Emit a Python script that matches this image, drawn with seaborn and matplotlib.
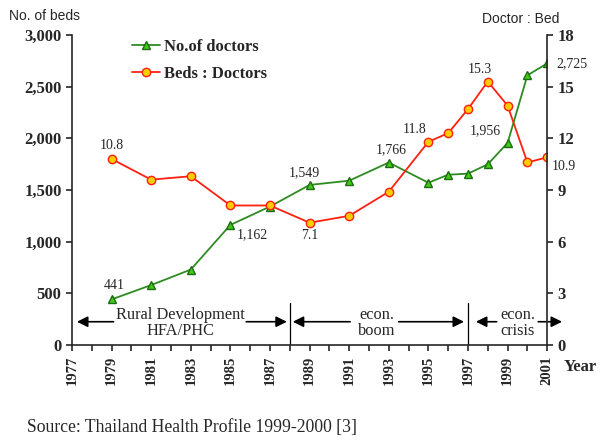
import numpy as np
import pandas as pd
import matplotlib.pyplot as plt
import seaborn as sns
from matplotlib.lines import Line2D
from matplotlib.ticker import FuncFormatter, MultipleLocator

# data
years = [1979, 1981, 1983, 1985, 1987, 1989, 1991, 1993, 1995, 1996, 1997, 1998, 1999, 2000, 2001]
doctors = [441, 580, 730, 1162, 1340, 1549, 1590, 1766, 1570, 1648, 1658, 1749, 1956, 2610, 2725]
beds_ratio = [10.8, 9.6, 9.8, 8.1, 8.1, 7.1, 7.5, 8.9, 11.8, 12.3, 13.7, 15.3, 13.9, 10.6, 10.9]

# which points get a value label, and where (offset in points)
doctor_labels = {1979: (2, 10), 1985: (16, -7), 1989: (-4, 9), 1993: (2, 9), 1999: (-16, 9), 2001: (18, 0)}
ratio_labels = {1979: (0, 10), 1989: (0, -9), 1995: (-10, 9), 1998: (-6, 9), 2001: (12, -7)}

periods = ["Rural Development\nHFA/PHC", "econ.\nboom", "econ.\ncrisis"]
period_centres = [1982.5, 1992.4, 1999.5]
period_breaks = [1988, 1997]

df = pd.DataFrame({"year": years, "doctors": doctors, "ratio": beds_ratio})

sns.set_style("ticks")
plt.rcParams["font.family"] = ["Liberation Serif", "DejaVu Serif"]

fig = plt.figure(figsize=(6, 4.46), dpi=100)
ax = fig.add_axes([0.12, 0.2265, 0.792, 0.695])
ax2 = ax.twinx()

green, green_face, green_edge = "#2e8b22", "#3fcc10", "#1d6b14"
red, red_face = "#ff2010", "#ffcc00"

sns.lineplot(data=df, x="year", y="doctors", ax=ax, color=green, lw=1.3,
             marker="^", markersize=6, markerfacecolor=green_face,
             markeredgecolor=green_edge, markeredgewidth=1.0)
sns.lineplot(data=df, x="year", y="ratio", ax=ax2, color=red, lw=1.3,
             marker="o", markersize=6, markerfacecolor=red_face,
             markeredgecolor=red, markeredgewidth=1.0)

ax.set_xlim(1977, 2001)
ax.set_ylim(0, 3000)
ax2.set_ylim(0, 18)
ax.set_xticks(range(1977, 2002, 2))
ax.xaxis.set_minor_locator(MultipleLocator(1))
ax.yaxis.set_major_locator(MultipleLocator(500))
ax2.yaxis.set_major_locator(MultipleLocator(3))
ax.yaxis.set_major_formatter(FuncFormatter(lambda v, p: f"{v:,.0f}"))

for a in (ax, ax2):
    a.set_xlabel("")
    a.set_ylabel("")
    a.spines["top"].set_visible(False)
    for s in a.spines.values():
        s.set_linewidth(1.2)
    a.tick_params(axis="both", which="major", direction="out", length=4, width=1.2)
    a.tick_params(axis="y", labelsize=12)
    a.tick_params(axis="x", labelsize=10.5)
    for lab in a.get_yticklabels() + a.get_xticklabels():
        lab.set_fontweight("bold")
ax2.spines["left"].set_visible(False)
ax2.spines["bottom"].set_visible(False)
ax.spines["right"].set_visible(False)
ax.tick_params(axis="x", which="minor", direction="out", length=4, width=1.2)
plt.setp(ax.get_xticklabels(), rotation=90)

# value labels
for yr, off in doctor_labels.items():
    v = df.loc[df.year == yr, "doctors"].iloc[0]
    ax.annotate(f"{v:,}", (yr, v), xytext=off, textcoords="offset points",
                ha="center", va="center", fontsize=10)
for yr, off in ratio_labels.items():
    v = df.loc[df.year == yr, "ratio"].iloc[0]
    ax2.annotate(f"{v}", (yr, v), xytext=off, textcoords="offset points",
                 ha="center", va="center", fontsize=10)

# period annotations
arrow = dict(arrowstyle="-|>", color="black", lw=1.2, mutation_scale=16,
             shrinkA=0, shrinkB=0)
for b in period_breaks:
    ax.plot([b, b], [0, 410], color="black", lw=0.9)
spans = [[(1979.1, 1977.25), (1985.8, 1987.85)],
         [(1991.05, 1988.15), (1993.5, 1996.8)],
         [(1998.45, 1997.4), (2000.55, 2001.75)]]
for text, cx, sp in zip(periods, period_centres, spans):
    ax.text(cx, 212, text, ha="center", va="center", fontsize=11.8, linespacing=0.95)
    for start, end in sp:
        ax.annotate("", xy=(end, 225), xytext=(start, 225), arrowprops=arrow,
                    annotation_clip=False)

# legend
handles = [Line2D([], [], color=green, lw=1.3, marker="^", markersize=6,
                  markerfacecolor=green_face, markeredgecolor=green_edge),
           Line2D([], [], color=red, lw=1.3, marker="o", markersize=6,
                  markerfacecolor=red_face, markeredgecolor=red)]
leg = ax2.legend(handles, ["No.of doctors", "Beds : Doctors"], loc="upper left",
                 bbox_to_anchor=(0.095, 1.035), frameon=False, handlelength=1.65,
                 handletextpad=0.25, labelspacing=0.65,
                 prop={"family": "Liberation Serif", "weight": "bold", "size": 12})

fig.text(0.015, 0.955, "No. of beds", family="Liberation Sans", fontsize=10)
fig.text(0.803, 0.948, "Doctor : Bed", family="Liberation Sans", fontsize=10)
fig.text(0.94, 0.168, "Year", fontsize=12, fontweight="bold")
fig.text(0.045, 0.032, "Source: Thailand Health Profile 1999-2000 [3]", fontsize=12.7)

fig.savefig("out.png", dpi=100)
